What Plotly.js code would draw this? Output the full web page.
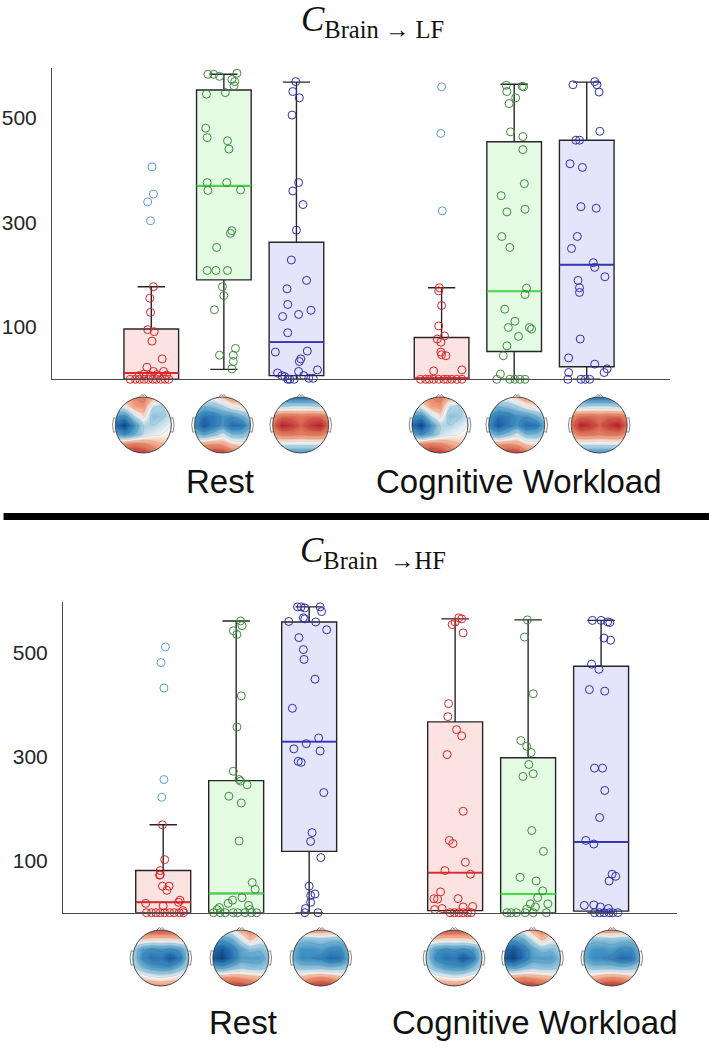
<!DOCTYPE html>
<html>
<head>
<meta charset="utf-8">
<script src="https://cdn.plot.ly/plotly-3.0.1.min.js"></script>
<style>html,body{margin:0;padding:0;background:#fff}#chart{width:709px;height:1048px}</style>
</head>
<body>
<div id="chart"></div>
<script>
// ---------------- DATA ----------------
const positions = [1, 2, 3, 5, 6, 7];
const conditionLabels = ['Rest', 'Cognitive Workload'];
const yTickValues = [100, 300, 500];
const panelTitles = ['<i>C</i><sub>Brain \u2192 LF</sub>', '<i>C</i><sub>Brain  \u2192HF</sub>'];

// C Brain -> LF : box statistics
const lfQ1 = [0, 190, 7, 0, 53, 24];
const lfMedian = [12, 370, 71, 2, 168, 219];
const lfQ3 = [96, 553, 262, 80, 454, 457];
const lfLowerWhisker = [0, 19, 0, 0, 0, 0];
const lfUpperWhisker = [177, 583, 568, 175, 564, 568];

// C Brain -> LF : individual subjects (values and horizontal jitter)
const lfValues = [
  [177,155,128,95,91,73,39,23,15,15,10,9,7,7,8,0,0,0,0,0,0,0,0,0,0],
  [583,583,579,585,573,569,561,548,545,480,462,456,440,376,376,361,362,284,279,252,208,208,208,177,160,133,59,46,46,34,20],
  [569,550,538,505,376,360,334,285,228,189,173,143,132,124,120,89,52,54,39,34,18,12,15,7,5,0,0,7,2,2,0],
  [175,169,141,102,83,77,71,52,45,47,16,18,0,0,0,0,0,0,0,0,0,0],
  [562,560,559,550,538,527,473,464,439,374,351,320,325,273,252,174,162,134,111,99,99,96,82,64,45,10,0,0,0,0,0],
  [563,569,563,549,474,457,457,412,405,330,327,273,250,223,214,196,189,175,166,77,41,29,20,13,13,0,0,0,0]
];
const lfJitter = [
  [0.03,-0.02,-0.01,-0.05,0.04,0.01,0.15,-0.06,0.03,0.17,-0.10,0.08,-0.17,-0.01,0.21,-0.29,-0.22,-0.16,-0.10,-0.04,0.02,0.07,0.13,0.19,0.24],
  [-0.22,-0.14,-0.06,0.18,0.11,0.15,0.14,0.02,-0.24,-0.25,-0.23,0.05,0.07,-0.23,0.04,-0.22,0.23,0.11,0.09,-0.10,-0.23,-0.11,0.05,-0.02,0.00,-0.13,0.16,-0.06,0.13,0.13,0.11],
  [-0.01,-0.05,0.04,-0.06,0.03,-0.05,0.09,0.00,-0.07,0.14,-0.13,-0.12,0.20,0.03,-0.19,-0.12,-0.29,0.15,0.06,0.04,0.29,-0.26,0.03,-0.20,-0.16,-0.09,-0.03,0.10,0.17,0.23,-0.12],
  [-0.03,-0.04,0.00,-0.04,0.04,-0.06,-0.01,-0.01,0.06,0.00,-0.11,0.28,-0.29,-0.22,-0.17,-0.11,-0.04,0.03,0.08,0.14,0.21,0.28],
  [-0.11,0.11,0.13,-0.10,0.02,-0.07,-0.05,0.12,0.12,0.14,-0.18,-0.10,0.15,-0.17,-0.06,0.17,0.15,-0.13,0.01,-0.08,0.21,0.24,0.06,-0.10,-0.15,-0.19,-0.24,-0.06,0.01,0.08,0.15],
  [-0.19,0.11,0.14,0.17,0.18,-0.15,-0.10,-0.23,-0.06,-0.08,0.13,-0.13,-0.21,0.09,0.11,0.25,-0.12,-0.10,-0.10,-0.09,-0.25,0.11,0.28,0.24,-0.25,-0.26,-0.08,-0.02,0.04]
];
const lfOutlierValues = [[406,354,339,303], [], [], [559,470,322], [], []];
const lfOutlierJitter = [[0.01,0.03,-0.05,-0.01], [], [], [0.00,-0.01,0.01], [], []];

// C Brain -> HF : box statistics
const hfQ1 = [0, 0, 118, 4, 0, 3];
const hfMedian = [20, 37, 329, 77, 36, 136];
const hfQ3 = [81, 254, 559, 367, 298, 474];
const hfLowerWhisker = [0, 0, 0, 0, 0, 0];
const hfUpperWhisker = [169, 561, 588, 565, 563, 562];

// C Brain -> HF : individual subjects
const hfValues = [
  [169,102,81,73,72,51,51,43,24,18,20,13,4,0,0,0,0,0,0,0,0,0],
  [561,552,542,535,417,357,272,256,253,246,224,211,138,58,45,29,24,18,14,10,6,6,0,0,0,0,0,0,0,0],
  [588,588,586,588,579,567,565,560,559,544,529,506,487,449,393,336,325,311,315,291,289,231,154,137,106,51,33,36,20,8,0,0],
  [567,565,554,559,538,402,377,352,340,304,195,139,133,97,81,74,40,27,26,27,6,8,11,12,0,0,0,0,0,0],
  [563,530,421,331,320,308,285,262,267,158,118,68,61,42,29,17,17,11,7,0,0,0,0,0,0],
  [562,562,559,558,528,524,478,468,429,426,278,278,235,183,139,132,74,70,61,14,15,11,8,0,0,0,0,0,0]
];
const hfJitter = [
  [-0.01,0.02,-0.04,-0.04,-0.05,-0.01,0.08,0.05,0.23,-0.24,0.21,0.00,0.27,-0.23,-0.16,-0.10,-0.04,0.02,0.09,0.15,0.22,0.28],
  [0.06,0.08,-0.04,0.01,0.07,0.01,-0.04,0.04,0.06,0.15,-0.10,0.07,0.04,0.22,0.26,0.08,-0.05,-0.11,0.17,-0.23,-0.26,0.19,-0.31,-0.22,-0.15,-0.04,0.02,0.12,0.21,0.28],
  [-0.16,-0.11,-0.06,0.15,0.17,-0.08,-0.06,-0.28,0.09,0.24,-0.14,-0.08,-0.07,0.08,-0.23,0.13,-0.04,0.15,-0.21,-0.15,-0.11,0.20,0.04,0.02,0.16,0.00,0.02,0.08,0.02,-0.05,0.12,-0.06],
  [0.05,0.09,-0.04,0.00,0.11,-0.09,-0.10,0.02,0.09,-0.11,0.11,-0.08,-0.03,0.14,-0.14,0.21,-0.20,-0.29,-0.24,0.04,-0.28,-0.18,0.11,0.24,-0.07,-0.01,0.05,0.11,0.17,0.22],
  [-0.01,-0.05,0.07,-0.10,-0.02,0.04,0.01,-0.07,0.07,0.05,0.21,-0.11,0.11,0.20,0.13,0.03,0.27,0.10,-0.02,-0.29,-0.23,-0.16,-0.04,0.07,0.25],
  [-0.12,0.00,0.09,0.12,0.04,0.13,-0.13,-0.03,-0.16,0.05,-0.09,0.02,0.05,-0.02,-0.21,-0.10,0.15,0.20,0.11,-0.23,-0.10,-0.01,0.10,-0.09,-0.02,0.04,0.11,0.16,0.23]
];
const hfOutlierValues = [[511,481,432,256,222], [], [], [], [], []];
const hfOutlierJitter = [[0.03,-0.03,0.01,0.01,-0.02], [], [], [], [], []];

// Scalp maps (rows: front -> back, columns: left -> right), normalised
const topoGrid = [-1, -0.667, -0.333, 0, 0.333, 0.667, 1];
const lfMapRed = [
  [0.2, 0.3, 0.4, 0.45, 0.3, 0.1, 0.0],
  [-0.1, 0.0, 0.3, 0.35, -0.15, -0.2, -0.05],
  [-0.5, -0.6, -0.15, 0.1, -0.3, -0.25, -0.1],
  [-0.8, -1.0, -0.55, -0.2, -0.2, -0.1, 0.0],
  [-0.4, -0.6, -0.4, -0.15, -0.05, 0.0, 0.05],
  [0.25, 0.4, 0.45, 0.4, 0.3, 0.2, 0.15],
  [0.55, 0.65, 0.75, 0.7, 0.55, 0.4, 0.3]
];
const lfMapGreen = [
  [0.2, 0.1, 0.0, 0.2, 0.35, 0.3, 0.2],
  [-0.2, -0.35, -0.3, -0.2, 0.0, 0.1, 0.0],
  [-0.5, -0.75, -0.7, -0.55, -0.55, -0.4, -0.2],
  [-0.6, -0.9, -0.7, -0.55, -0.8, -0.75, -0.4],
  [-0.3, -0.45, -0.3, -0.1, -0.35, -0.35, -0.2],
  [0.25, 0.3, 0.35, 0.3, 0.15, 0.1, 0.1],
  [0.5, 0.6, 0.7, 0.7, 0.5, 0.35, 0.25]
];
const lfMapBlue = [
  [-0.5, -0.6, -0.7, -0.7, -0.7, -0.6, -0.5],
  [-0.1, -0.2, -0.15, -0.15, -0.15, -0.2, -0.1],
  [0.35, 0.5, 0.5, 0.45, 0.5, 0.5, 0.35],
  [0.5, 0.8, 0.7, 0.55, 0.7, 0.8, 0.5],
  [0.3, 0.45, 0.45, 0.4, 0.45, 0.45, 0.3],
  [-0.05, -0.1, -0.1, -0.1, -0.1, -0.1, -0.05],
  [-0.4, -0.5, -0.55, -0.55, -0.55, -0.5, -0.4]
];
const hfMapRed = [
  [0.45, 0.55, 0.6, 0.6, 0.6, 0.55, 0.45],
  [0.1, 0.15, 0.1, 0.1, 0.1, 0.15, 0.1],
  [-0.2, -0.5, -0.6, -0.55, -0.6, -0.5, -0.2],
  [-0.2, -0.6, -0.75, -0.7, -0.9, -0.7, -0.2],
  [-0.1, -0.35, -0.5, -0.55, -0.55, -0.35, -0.1],
  [0.1, 0.1, 0.0, -0.05, 0.0, 0.1, 0.1],
  [0.3, 0.35, 0.4, 0.4, 0.4, 0.35, 0.3]
];
const hfMapGreen = [
  [0.0, -0.1, 0.0, 0.3, 0.4, 0.3, 0.15],
  [-0.4, -0.5, -0.4, -0.1, 0.2, 0.0, -0.1],
  [-0.8, -0.9, -0.7, -0.45, -0.3, -0.35, -0.2],
  [-0.9, -1.0, -0.75, -0.5, -0.5, -0.5, -0.3],
  [-0.4, -0.5, -0.35, -0.25, -0.3, -0.3, -0.2],
  [0.2, 0.3, 0.35, 0.3, 0.25, 0.2, 0.1],
  [0.5, 0.6, 0.7, 0.7, 0.6, 0.45, 0.35]
];
const hfMapBlue = [
  [0.2, 0.3, 0.35, 0.35, 0.3, 0.25, 0.2],
  [-0.2, -0.3, -0.3, -0.25, -0.3, -0.3, -0.2],
  [-0.4, -0.55, -0.55, -0.5, -0.6, -0.6, -0.35],
  [-0.4, -0.6, -0.6, -0.65, -0.8, -0.75, -0.4],
  [-0.2, -0.3, -0.3, -0.3, -0.35, -0.3, -0.2],
  [0.1, 0.2, 0.3, 0.35, 0.3, 0.2, 0.1],
  [0.45, 0.55, 0.7, 0.75, 0.7, 0.55, 0.4]
];
const lfMaps = [lfMapRed, lfMapGreen, lfMapBlue, lfMapRed, lfMapGreen, lfMapBlue];
const hfMaps = [hfMapRed, hfMapGreen, hfMapBlue, hfMapRed, hfMapGreen, hfMapBlue];

// ---------------- STYLE / LAYOUT CONSTANTS ----------------
const W = 709, H = 1048;
const BOX_W = 0.753;
const pointColors = ['#d92323', '#3e8a3e', '#2d2db3', '#d92323', '#3e8a3e', '#2d2db3'];
const outlierColor = '#5b9bd0';
const boxFills = ['#fde2e2', '#e2fbe2', '#e4e4fa', '#fde2e2', '#e2fbe2', '#e4e4fa'];
const medianColors = ['#e02828', '#3ee03e', '#3434c4', '#e02828', '#3ee03e', '#3434c4'];
const sansFont = 'Liberation Sans, Arial, sans-serif';
const serifFont = 'Liberation Serif, Times New Roman, serif';
const topoScale = [[0,'#053061'],[0.125,'#2166ac'],[0.25,'#4393c3'],[0.375,'#92c5de'],[0.5,'#f7f7f7'],[0.625,'#f4a582'],[0.75,'#d6604d'],[0.875,'#b2182b'],[1,'#67001f']];

const panels = [
  {xa:'x', ya:'y', q1:lfQ1, med:lfMedian, q3:lfQ3, lo:lfLowerWhisker, hi:lfUpperWhisker,
   vals:lfValues, jit:lfJitter, oV:lfOutlierValues, oJ:lfOutlierJitter,
   xPix:[52,670], yPix:[68,379.3], xRange:[-0.368,8.147], yRange:[0,595],
   headX:[143.3,222.5,300.7,440,516.7,599.2], headY:425, maps:lfMaps,
   titleY:21, labelY:481, labelX:[219.6,519], titleX:372},
  {xa:'x2', ya:'y2', q1:hfQ1, med:hfMedian, q3:hfQ3, lo:hfLowerWhisker, hi:hfUpperWhisker,
   vals:hfValues, jit:hfJitter, oV:hfOutlierValues, oJ:hfOutlierJitter,
   xPix:[63,677], yPix:[601.7,912.7], xRange:[-0.373,8.04], yRange:[0,598],
   headX:[160.8,240.8,320.8,454,532.5,611.8], headY:958, maps:hfMaps,
   titleY:552, labelY:1022, labelX:[242.8,534.5], titleX:373}
];

const traces = [];
const shapes = [];
const annotations = [];
const layout = {
  width: W, height: H, margin: {l:0, r:0, t:0, b:0},
  paper_bgcolor: '#ffffff', plot_bgcolor: 'rgba(0,0,0,0)',
  showlegend: false, boxmode: 'overlay', hovermode: false,
  font: {family: sansFont, color: '#262626'}
};

panels.forEach((p, pi) => {
  const xKey = pi === 0 ? 'xaxis' : 'xaxis2';
  const yKey = pi === 0 ? 'yaxis' : 'yaxis2';
  layout[xKey] = {
    domain: [p.xPix[0]/W, p.xPix[1]/W], range: p.xRange, anchor: p.ya,
    showline: true, linecolor: '#4a4a4a', linewidth: 1, showgrid: false, zeroline: false,
    showticklabels: false, ticks: '', fixedrange: true
  };
  layout[yKey] = {
    domain: [1 - p.yPix[1]/H, 1 - p.yPix[0]/H], range: p.yRange, anchor: p.xa,
    showline: true, linecolor: '#4a4a4a', linewidth: 1, showgrid: false, zeroline: false,
    tickmode: 'array', tickvals: yTickValues, ticks: '', ticklabelstandoff: 10,
    tickfont: {family: sansFont, size: 21, color: '#262626'}, fixedrange: true
  };
  // boxes
  for (let i = 0; i < positions.length; i++) {
    traces.push({
      type: 'box', xaxis: p.xa, yaxis: p.ya, x: [positions[i]],
      q1: [p.q1[i]], median: [p.med[i]], q3: [p.q3[i]],
      lowerfence: [p.lo[i]], upperfence: [p.hi[i]],
      width: BOX_W, whiskerwidth: 0.5, boxpoints: false,
      fillcolor: boxFills[i], line: {color: '#262626', width: 1.4}, hoverinfo: 'skip'
    });
  }
  // coloured median lines
  for (let i = 0; i < positions.length; i++) {
    traces.push({
      type: 'scatter', mode: 'lines', xaxis: p.xa, yaxis: p.ya,
      x: [positions[i] - BOX_W/2, positions[i] + BOX_W/2], y: [p.med[i], p.med[i]],
      line: {color: medianColors[i], width: 1.8}, hoverinfo: 'skip', cliponaxis: false
    });
  }
  // subject points and outliers
  for (let i = 0; i < positions.length; i++) {
    traces.push({
      type: 'scatter', mode: 'markers', xaxis: p.xa, yaxis: p.ya,
      x: p.jit[i].map(j => positions[i] + j), y: p.vals[i],
      marker: {symbol: 'circle-open', size: 8, color: pointColors[i], line: {width: 1}},
      cliponaxis: false, hoverinfo: 'skip'
    });
    if (p.oV[i].length) {
      traces.push({
        type: 'scatter', mode: 'markers', xaxis: p.xa, yaxis: p.ya,
        x: p.oJ[i].map(j => positions[i] + j), y: p.oV[i],
        marker: {symbol: 'circle-open', size: 8, color: outlierColor, line: {width: 1}},
        cliponaxis: false, hoverinfo: 'skip'
      });
    }
  }
  // scalp maps
  const R = 28, HALF = 1.18;
  for (let i = 0; i < 6; i++) {
    const k = 3 + pi*6 + i;
    const xa = 'x' + k, ya = 'y' + k;
    const cx = p.headX[i], cy = p.headY, hpx = R*HALF;
    layout['xaxis' + k] = {domain: [(cx - hpx)/W, (cx + hpx)/W], range: [-HALF, HALF], visible: false, fixedrange: true, anchor: ya};
    layout['yaxis' + k] = {domain: [1 - (cy + hpx)/H, 1 - (cy - hpx)/H], range: [-HALF, HALF], visible: false, fixedrange: true, anchor: xa};
    traces.push({
      type: 'contour', xaxis: xa, yaxis: ya,
      x: topoGrid, y: topoGrid.slice(), z: p.maps[i].slice().reverse(),
      zmin: -1.1, zmax: 1.1, zauto: false, colorscale: topoScale, showscale: false,
      contours: {coloring: 'heatmap', start: -1, end: 1, size: 0.2},
      line: {width: 0.4, color: 'rgba(50,50,50,0.28)', smoothing: 1.2},
      hoverinfo: 'skip'
    });
    const c = 0.5523, m = 1.12;
    shapes.push({type: 'path', xref: xa, yref: ya, layer: 'above', fillcolor: '#ffffff', line: {width: 0},
      path: `M ${-m} ${-m} L ${m} ${-m} L ${m} ${m} L ${-m} ${m} Z M 1 0 C 1 ${-c} ${c} -1 0 -1 C ${-c} -1 -1 ${-c} -1 0 C -1 ${c} ${-c} 1 0 1 C ${c} 1 1 ${c} 1 0 Z`});
    shapes.push({type: 'circle', xref: xa, yref: ya, layer: 'above', x0: -1, x1: 1, y0: -1, y1: 1, line: {color: '#3a3a3a', width: 0.9}});
    shapes.push({type: 'path', xref: xa, yref: ya, layer: 'above', line: {color: '#6a6a6a', width: 0.8},
      path: 'M -0.985 0.24 L -1.06 0.26 Q -1.14 0 -1.06 -0.26 L -0.985 -0.24'});
    shapes.push({type: 'path', xref: xa, yref: ya, layer: 'above', line: {color: '#6a6a6a', width: 0.8},
      path: 'M 0.985 0.24 L 1.06 0.26 Q 1.14 0 1.06 -0.26 L 0.985 -0.24'});
    shapes.push({type: 'path', xref: xa, yref: ya, layer: 'above', line: {color: '#6a6a6a', width: 0.8},
      path: 'M -0.14 0.99 L -0.05 1.09 L 0 1.04 L 0.05 1.09 L 0.14 0.99'});
  }
  // titles & condition labels
  annotations.push({xref: 'paper', yref: 'paper', x: p.titleX/W, y: 1 - p.titleY/H, xanchor: 'center', yanchor: 'middle',
    text: panelTitles[pi], showarrow: false, font: {family: serifFont, size: 35, color: '#111'}});
  conditionLabels.forEach((lab, li) => {
    annotations.push({xref: 'paper', yref: 'paper', x: p.labelX[li]/W, y: 1 - p.labelY/H, xanchor: 'center', yanchor: 'middle',
      text: lab, showarrow: false, font: {family: sansFont, size: 33, color: '#111'}});
  });
});

// thick separator between the two panels
shapes.push({type: 'line', xref: 'paper', yref: 'paper', x0: 0.005, x1: 1, y0: 1 - 516.5/H, y1: 1 - 516.5/H, line: {color: '#000', width: 7}});

layout.shapes = shapes;
layout.annotations = annotations;

Plotly.newPlot('chart', traces, layout, {staticPlot: true, displayModeBar: false});
</script>
</body>
</html>
